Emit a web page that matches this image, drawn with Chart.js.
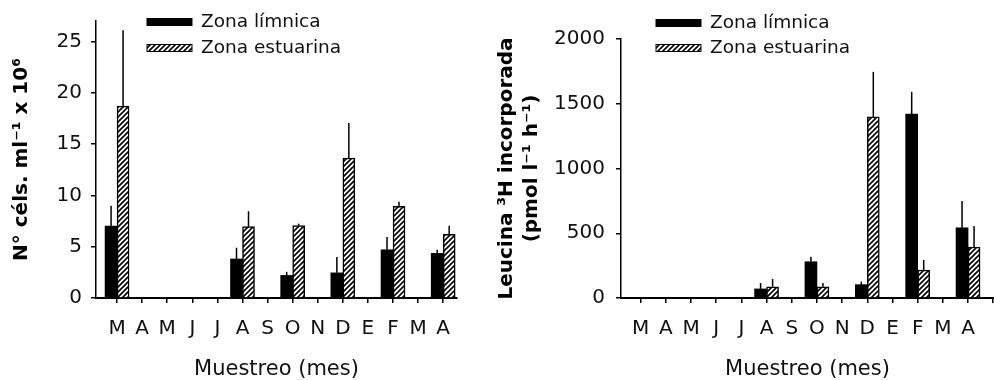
<!DOCTYPE html>
<html>
<head>
<meta charset="utf-8">
<script src="https://cdn.jsdelivr.net/npm/chart.js@4.4.1/dist/chart.umd.min.js"></script>
<style>
    body { margin: 0; background: #fff; }
    .panel { position: absolute; top: 0; height: 380px; }
    #leftPanel { left: 0; width: 494px; }
    #rightPanel { left: 484px; width: 510px; }
</style>
</head>
<body>
<div class="panel" id="leftPanel"><canvas id="cellChart"></canvas></div>
<div class="panel" id="rightPanel"><canvas id="leucineChart"></canvas></div>
<script>
// Sampling months (March to April of the following year)
const months = ['M', 'A', 'M', 'J', 'J', 'A', 'S', 'O', 'N', 'D', 'E', 'F', 'M', 'A'];

// Cell abundance (cells ml-1 x 10^6)
const cellLimnica = [7.0, null, null, null, null, 3.8, null, 2.2, null, 2.45, null, 4.7, null, 4.35];
const cellLimnicaErr = [2.0, null, null, null, null, 1.1, null, 0.35, null, 1.55, null, 1.25, null, 0.35];
const cellEstuarina = [18.7, null, null, null, null, 6.95, null, 7.05, null, 13.65, null, 8.93, null, 6.2];
const cellEstuarinaErr = [7.4, null, null, null, null, 1.5, null, 0.2, null, 3.4, null, 0.45, null, 0.85];

// 3H-leucine incorporation (pmol l-1 h-1)
const leuLimnica = [null, null, null, null, null, 70, null, 280, null, 103, null, 1421, null, 541];
const leuLimnicaErr = [null, null, null, null, null, 46, null, 39, null, 23, null, 171, null, 209];
const leuEstuarina = [null, null, null, null, null, 87, null, 87, null, 1399, null, 216, null, 394];
const leuEstuarinaErr = [null, null, null, null, null, 60, null, 29, null, 347, null, 78, null, 162];

const cellTicks = [0, 5, 10, 15, 20, 25];
const leuTicks = [0, 500, 1000, 1500, 2000];

const FONT = 'DejaVu Sans';

// Diagonal hatch fill for the estuarine series
function hatchPattern() {
    const c = document.createElement('canvas');
    c.width = 5;
    c.height = 5;
    const g = c.getContext('2d');
    g.fillStyle = '#fff';
    g.fillRect(0, 0, 5, 5);
    g.strokeStyle = '#000';
    g.lineWidth = 1.6;
    g.beginPath();
    g.moveTo(-1, 6); g.lineTo(6, -1);
    g.moveTo(-1, 1); g.lineTo(1, -1);
    g.moveTo(4, 6); g.lineTo(6, 4);
    g.stroke();
    return g.createPattern(c, 'repeat');
}

function toPoints(values) {
    return values.map((v, i) => ({ x: i, y: v }));
}

// Upper error whiskers, drawn from each bar top
const errorBars = {
    id: 'errorBars',
    afterDatasetsDraw(chart) {
        const ctx = chart.ctx;
        const yScale = chart.scales.y;
        ctx.save();
        ctx.strokeStyle = '#000';
        ctx.lineWidth = 1.5;
        chart.data.datasets.forEach((ds, di) => {
            const meta = chart.getDatasetMeta(di);
            meta.data.forEach((bar, j) => {
                const v = ds.data[j].y;
                const e = ds.errors[j];
                if (v == null || e == null) return;
                ctx.beginPath();
                ctx.moveTo(bar.x, bar.y);
                ctx.lineTo(bar.x, yScale.getPixelForValue(v + e));
                ctx.stroke();
            });
        });
        ctx.restore();
    }
};

// Two-row legend placed over the top of the plot
const boxLegend = {
    id: 'boxLegend',
    afterDraw(chart, args, opts) {
        const ctx = chart.ctx;
        ctx.save();
        ctx.font = '18.5px "' + FONT + '"';
        ctx.textBaseline = 'middle';
        chart.data.datasets.forEach((ds, i) => {
            const y = opts.y + i * opts.rowGap;
            ctx.fillStyle = ds.backgroundColor;
            ctx.fillRect(opts.x, y - 3.5, 45, 7);
            ctx.strokeStyle = '#000';
            ctx.lineWidth = 1;
            ctx.strokeRect(opts.x, y - 3.5, 45, 7);
            ctx.fillStyle = '#111';
            ctx.fillText(ds.label, opts.x + 54, y);
        });
        ctx.restore();
    }
};

function makeChart(id, cfg) {
    const hatch = hatchPattern();
    return new Chart(document.getElementById(id), {
        type: 'bar',
        data: {
            datasets: [{
                label: 'Zona límnica',
                data: toPoints(cfg.limnica),
                errors: cfg.limnicaErr,
                backgroundColor: '#000',
                borderColor: '#000',
                borderWidth: 0,
                barThickness: 12
            }, {
                label: 'Zona estuarina',
                data: toPoints(cfg.estuarina),
                errors: cfg.estuarinaErr,
                backgroundColor: hatch,
                borderColor: '#000',
                borderWidth: 1.5,
                borderSkipped: 'bottom',
                barThickness: 12
            }]
        },
        options: {
            responsive: true,
            maintainAspectRatio: false,
            animation: false,
            layout: { padding: cfg.padding },
            plugins: {
                legend: { display: false },
                tooltip: { enabled: false },
                boxLegend: cfg.legend
            },
            scales: {
                x: {
                    type: 'linear',
                    offset: false,
                    min: cfg.xMin,
                    max: cfg.xMax,
                    afterFit: (s) => {
                        s.height = 82;
                        s.paddingLeft = 0;
                        s.paddingRight = 0;
                    },
                    border: { color: '#000', width: 2 },
                    grid: { offset: false, drawOnChartArea: false, drawTicks: true, tickLength: 5, color: '#000', lineWidth: 1.5 },
                    ticks: {
                        stepSize: 1,
                        includeBounds: false,
                        autoSkip: false,
                        maxRotation: 0,
                        padding: 14,
                        color: '#111',
                        font: { family: FONT, size: 20 },
                        callback: (v) => months[v] || ''
                    },
                    title: {
                        display: true,
                        text: 'Muestreo (mes)',
                        color: '#111',
                        font: { family: FONT, size: 21, lineHeight: 1 },
                        padding: { top: 0, bottom: 0 }
                    }
                },
                y: {
                    min: 0,
                    max: cfg.yMax,
                    afterFit: (s) => { s.width = cfg.yWidth; },
                    afterBuildTicks: (s) => { s.ticks = cfg.yTicks.map(v => ({ value: v })); },
                    border: { color: '#000', width: 1.5 },
                    grid: { drawOnChartArea: false, drawTicks: true, tickLength: 5, color: '#000', lineWidth: 1.5 },
                    ticks: {
                        padding: cfg.yTickPad,
                        color: '#111',
                        font: { family: FONT, size: 20 },
                        callback: (v) => String(v)
                    },
                    title: {
                        display: true,
                        text: cfg.yTitle,
                        color: '#000',
                        font: { family: FONT, size: 20, weight: 'bold', lineHeight: 1.25 },
                        padding: { top: cfg.yTitlePad, bottom: 0 }
                    }
                }
            }
        },
        plugins: [errorBars, boxLegend]
    });
}

makeChart('cellChart', {
    limnica: cellLimnica,
    limnicaErr: cellLimnicaErr,
    estuarina: cellEstuarina,
    estuarinaErr: cellEstuarinaErr,
    xMin: -0.84,
    xMax: 13.55,
    yMax: 27,
    yTicks: cellTicks,
    yWidth: 96,
    yTickPad: 9,
    yTitle: 'N° céls. ml⁻¹ x 10⁶',
    yTitlePad: 9.5,
    padding: { top: 12, right: 37, left: 0, bottom: 0 },
    legend: { x: 147, y: 22, rowGap: 26 }
});

makeChart('leucineChart', {
    limnica: leuLimnica,
    limnicaErr: leuLimnicaErr,
    estuarina: leuEstuarina,
    estuarinaErr: leuEstuarinaErr,
    xMin: -0.78,
    xMax: 14.03,
    yMax: 2000,
    yTicks: leuTicks,
    yWidth: 137,
    yTickPad: 11,
    yTitle: ['Leucina ³H incorporada', '(pmol l⁻¹ h⁻¹)'],
    yTitlePad: 10.5,
    padding: { top: 39, right: 0, left: 0, bottom: 0 },
    legend: { x: 172, y: 23, rowGap: 25 }
});
</script>
</body>
</html>
